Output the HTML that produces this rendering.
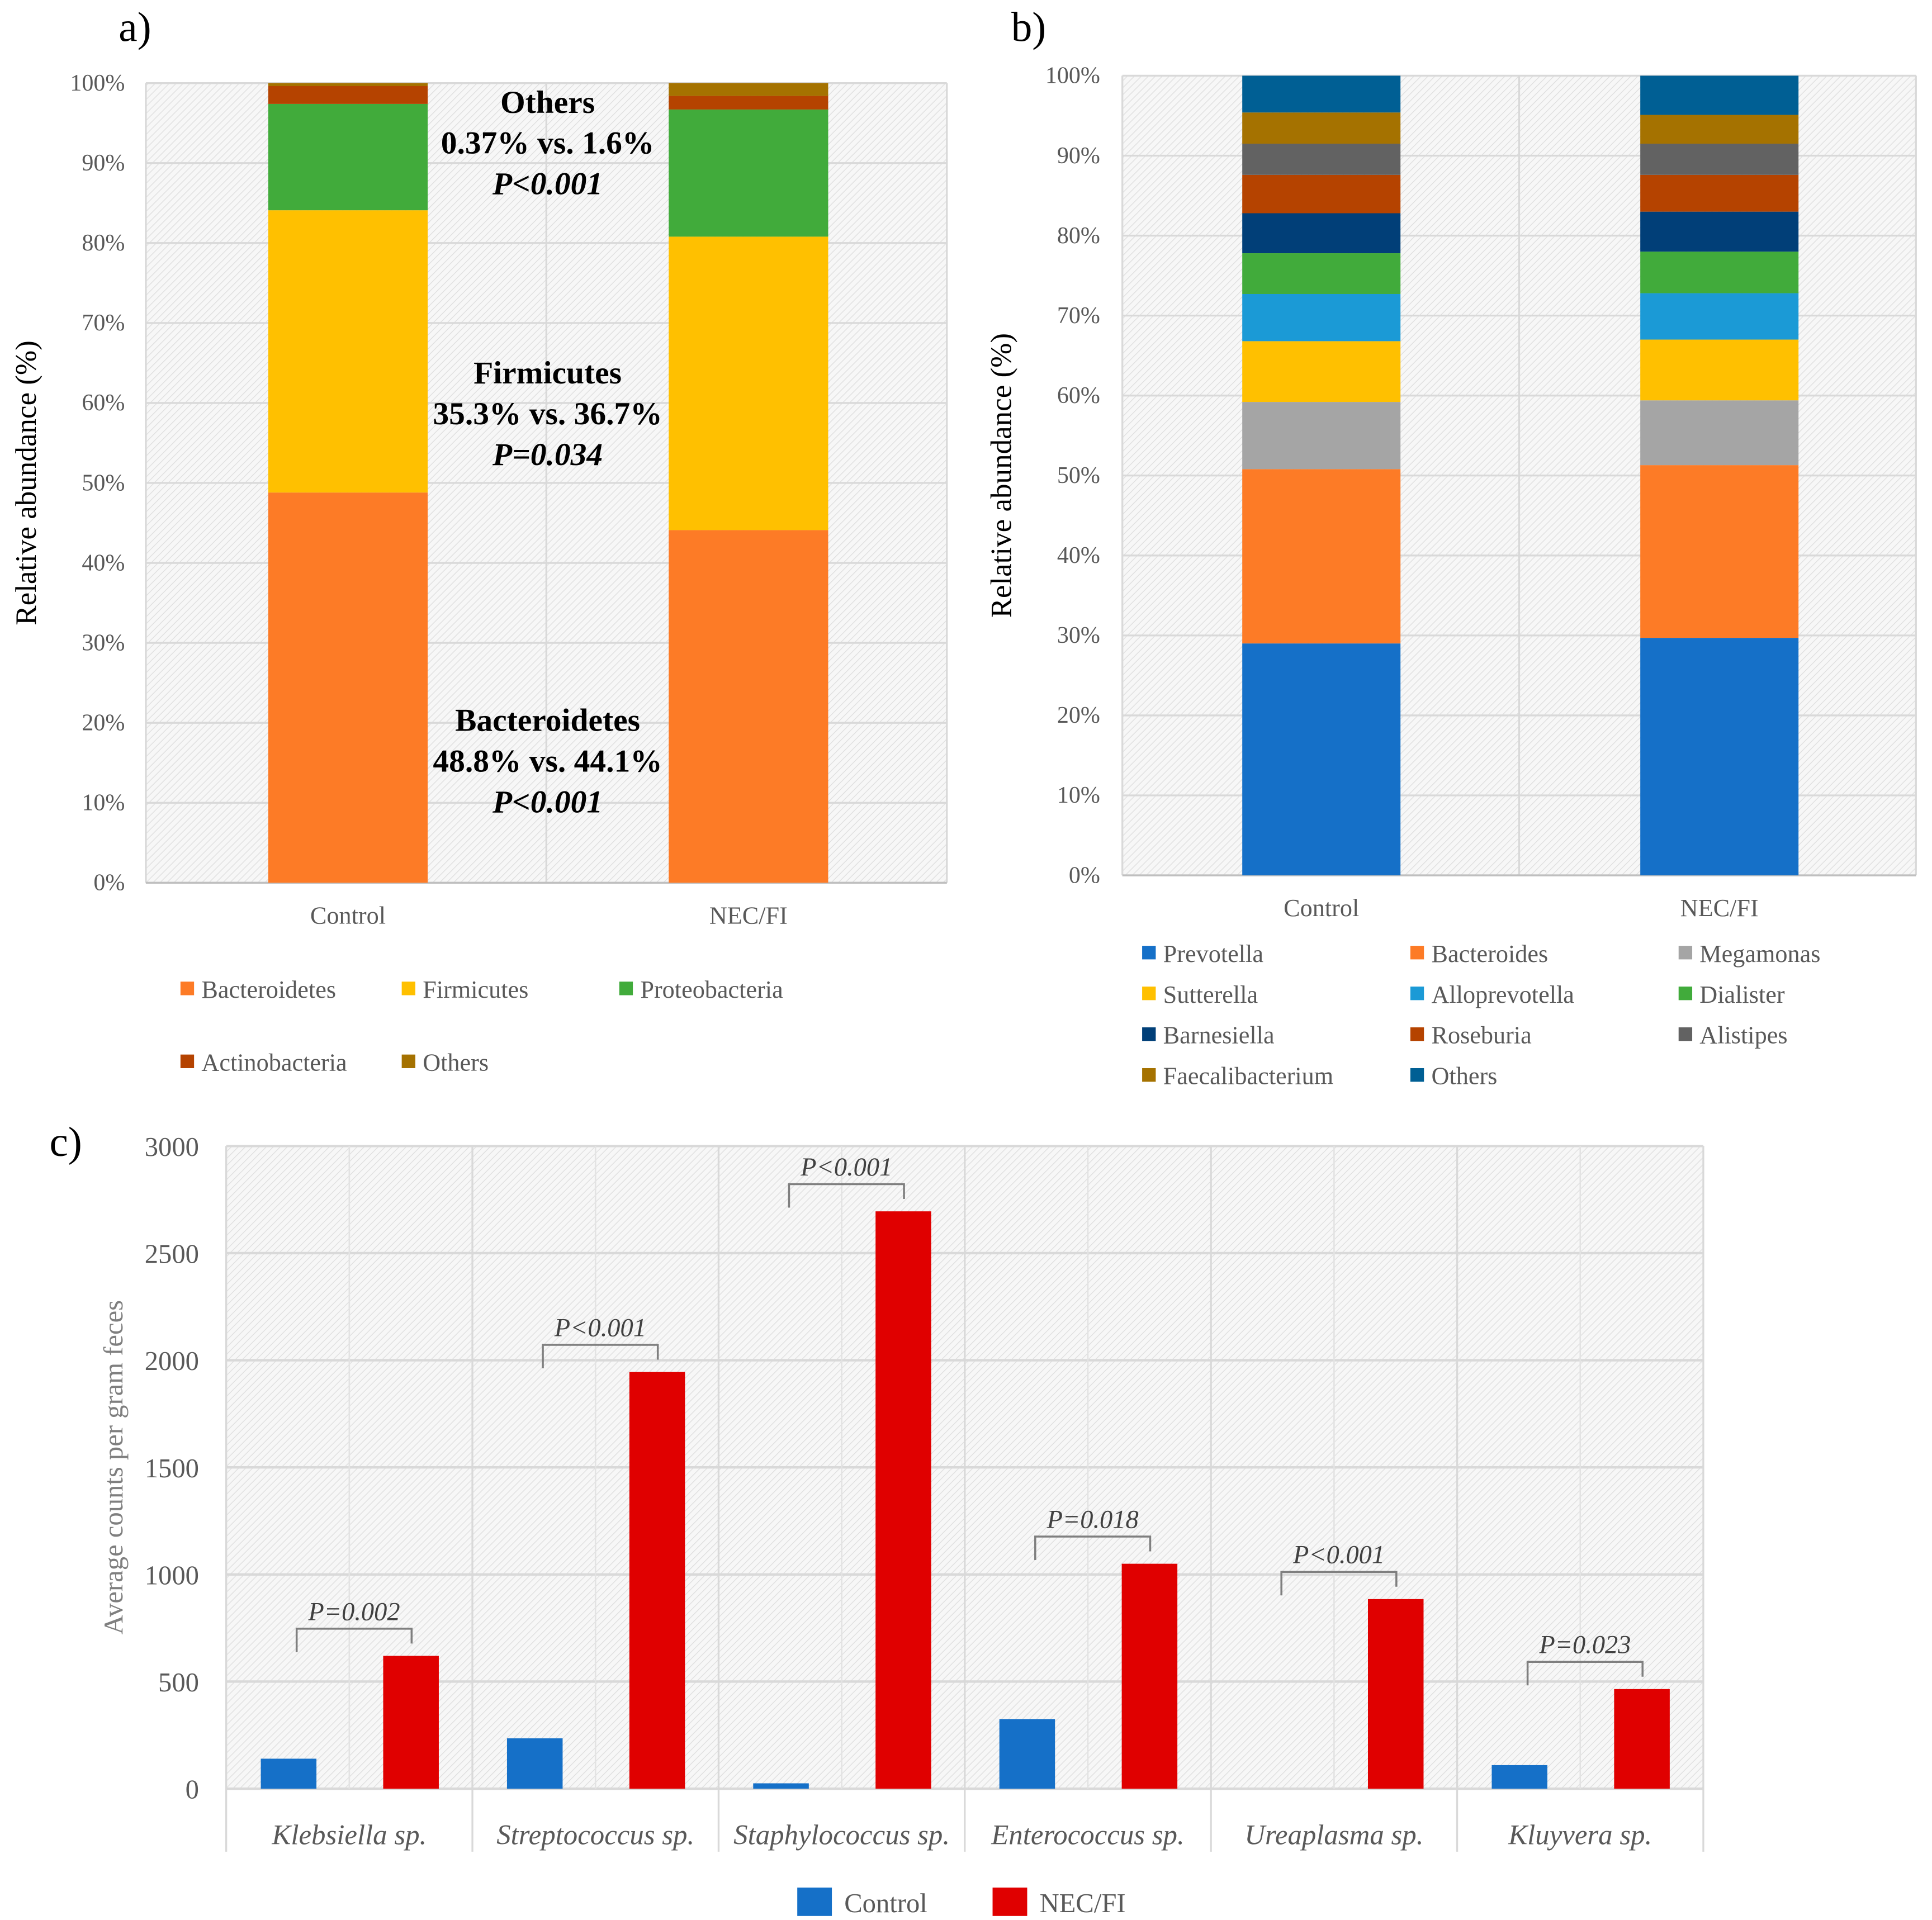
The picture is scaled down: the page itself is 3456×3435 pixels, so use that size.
<!DOCTYPE html>
<html><head><meta charset="utf-8"><style>
html,body{margin:0;padding:0;background:#fff}
svg{display:block}
text{font-family:"Liberation Serif",serif}
</style></head><body>
<svg id="fig" width="3456" height="3435" viewBox="0 0 1563 1553" xmlns="http://www.w3.org/2000/svg">
<defs>
<pattern id="hatch" patternUnits="userSpaceOnUse" width="4" height="4" patternTransform="rotate(45)">
<rect width="4" height="4" fill="#f7f7f7"/><line x1="0" y1="0" x2="0" y2="4" stroke="#dedede" stroke-width="1.2"/>
</pattern>
</defs>
<g id="pa"></g>
<g id="pb"></g>
<g id="pc"></g>
</svg>
<script>
// Panel a data
const aGroups = ["Control","NEC/FI"];
const aSeries = ["Bacteroidetes","Firmicutes","Proteobacteria","Actinobacteria","Others"];
const aControl = [48.8,35.3,13.3,2.23,0.37];
const aNec = [44.1,36.7,15.9,1.7,1.6];
const aColors = ["#fd7b26","#ffc000","#41ab3b","#b54300","#a57200"];
// Panel b data
const bSeries = ["Prevotella","Bacteroides","Megamonas","Sutterella","Alloprevotella","Dialister","Barnesiella","Roseburia","Alistipes","Faecalibacterium","Others"];
const bControl = [29.0,21.8,8.4,7.6,5.9,5.1,5.0,4.8,3.9,3.9,4.6];
const bNec = [29.7,21.6,8.1,7.6,5.8,5.2,5.0,4.6,3.9,3.6,4.9];
const bColors = ["#1570c8","#fd7b26","#a5a5a5","#ffc000","#1b9ad6","#41ab3b","#013f78","#b54300","#626262","#a57200","#005f94"];
const pctTicks = ["0%","10%","20%","30%","40%","50%","60%","70%","80%","90%","100%"];
// Panel c data
const cCats = ["Klebsiella sp.","Streptococcus sp.","Staphylococcus sp.","Enterococcus sp.","Ureaplasma sp.","Kluyvera sp."];
const cControl = [140,235,25,325,0,110];
const cNec = [620,1945,2695,1050,885,465];
const cPvals = ["P=0.002","P<0.001","P<0.001","P=0.018","P<0.001","P=0.023"];
const cTicks = [0,500,1000,1500,2000,2500,3000];

const NS="http://www.w3.org/2000/svg";
function el(parent,tag,attrs,txt){const e=document.createElementNS(NS,tag);for(const k in attrs)e.setAttribute(k,attrs[k]);if(txt!==undefined)e.textContent=txt;parent.appendChild(e);return e;}

function stacked(g,cfg){
  const {x0,x1,yTop,yBot,bars,series,colors,groups,barW,bx,tickX,titleX,label,labelX,labelY}=cfg;
  const y=v=>yBot-(yBot-yTop)*v/100;
  const r=el(g,'rect',{x:x0,y:yTop,width:x1-x0,height:yBot-yTop,fill:'url(#hatch)'});
  
  
  for(let i=0;i<pctTicks.length;i++){
    const yy=y(i*10);
    const gl=el(g,'line',{x1:x0,x2:x1,y1:yy,y2:yy,stroke:'#d9d9d9','stroke-width':1.5});
    
    
    const t=el(g,'text',{x:tickX,y:yy+6,'text-anchor':'end','font-size':19,fill:'#595959'},pctTicks[i]);
    
    
  }
  const mid=(x0+x1)/2;
  el(g,'line',{x1:mid,x2:mid,y1:yTop,y2:yBot,stroke:'#d9d9d9','stroke-width':1.5});
  el(g,'line',{x1:x0,x2:x0,y1:yTop,y2:yBot,stroke:'#d9d9d9','stroke-width':1.5});
  el(g,'line',{x1:x1,x2:x1,y1:yTop,y2:yBot,stroke:'#d9d9d9','stroke-width':1.5});
  el(g,'line',{x1:x0,x2:x1,y1:yBot,y2:yBot,stroke:'#bfbfbf','stroke-width':1.5});
  bars.forEach((vals,bi)=>{
    let cum=0;
    vals.forEach((v,si)=>{
      const s=el(g,'rect',{x:bx[bi],y:y(cum+v),width:barW,height:y(cum)-y(cum+v),fill:colors[si]});
      
      
      cum+=v;
    });
    const t=el(g,'text',{x:bx[bi]+barW/2,y:yBot+33,'text-anchor':'middle','font-size':20,fill:'#595959'},groups[bi]);
    
    
  });
  const yt=el(g,'text',{x:titleX,y:(yTop+yBot)/2,'text-anchor':'middle','font-size':24,fill:'#000',transform:`rotate(-90 ${titleX} ${(yTop+yBot)/2})`},'Relative abundance (%)');
  
  
  const pl=el(g,'text',{x:labelX,y:labelY,'font-size':34,fill:'#000'},label);
  
  
}

const pa=document.getElementById('pa');
stacked(pa,{x0:118,x1:766,yTop:67,yBot:714,bars:[aControl,aNec],series:aSeries,colors:aColors,groups:aGroups,barW:129,bx:[217,541],tickX:101,titleX:29,label:'a)',labelX:96,labelY:33});
[["Others","0.37% vs. 1.6%","P<0.001",91],["Firmicutes","35.3% vs. 36.7%","P=0.034",310],["Bacteroidetes","48.8% vs. 44.1%","P<0.001",591]].forEach(a=>{
  const t1=el(pa,'text',{x:443,y:a[3],'text-anchor':'middle','font-size':26,'font-weight':'bold'},a[0]);
  
  
  const t2=el(pa,'text',{x:443,y:a[3]+33,'text-anchor':'middle','font-size':26,'font-weight':'bold'},a[1]);
  
  
  const t3=el(pa,'text',{x:443,y:a[3]+66,'text-anchor':'middle','font-size':26,'font-weight':'bold','font-style':'italic'},a[2]);
  
  
});
const aLegPos=[[146,800],[325,800],[501,800],[146,859],[325,859]];
aSeries.forEach((s,i)=>{
  const [lx,ly]=aLegPos[i];
  const sq=el(pa,'rect',{x:lx,y:ly-6,width:11,height:11,fill:aColors[i]});
  
  
  const t=el(pa,'text',{x:lx+17,y:ly+7,'font-size':20,fill:'#595959'},s);
  
  
});

const pb=document.getElementById('pb');
stacked(pb,{x0:908,x1:1550,yTop:61,yBot:708,bars:[bControl,bNec],series:bSeries,colors:bColors,groups:aGroups,barW:128,bx:[1005,1327],tickX:890,titleX:818,label:'b)',labelX:818,labelY:33});
bSeries.forEach((s,i)=>{
  const lx=[924,1141,1358][i%3], ly=771+33*Math.floor(i/3);
  const sq=el(pb,'rect',{x:lx,y:ly-6,width:11,height:11,fill:bColors[i]});
  
  
  const t=el(pb,'text',{x:lx+17,y:ly+7,'font-size':20,fill:'#595959'},s);
  
  
});

// Panel c
const pc=document.getElementById('pc');
const cx0=183,cx1=1378,cTop=927,cBot=1447,cMax=3000;
const cw=(cx1-cx0)/cCats.length;
const cy=v=>cBot-(cBot-cTop)*v/cMax;
const pr=el(pc,'rect',{x:cx0,y:cTop,width:cx1-cx0,height:cBot-cTop,fill:'url(#hatch)'});


cTicks.forEach(v=>{
  const gl=el(pc,'line',{x1:cx0,x2:cx1,y1:cy(v),y2:cy(v),stroke:'#d9d9d9','stroke-width':2});
  
  
  const t=el(pc,'text',{x:161,y:cy(v)+8,'text-anchor':'end','font-size':22,fill:'#595959'},String(v));
  
  
});
for(let i=0;i<=cCats.length;i++){
  el(pc,'line',{x1:cx0+i*cw,x2:cx0+i*cw,y1:cTop,y2:cBot+51,stroke:'#d9d9d9','stroke-width':1.5});
  if(i<cCats.length) el(pc,'line',{x1:cx0+i*cw+cw/2,x2:cx0+i*cw+cw/2,y1:cTop,y2:cBot,stroke:'#e3e3e3','stroke-width':1.2});
}
cCats.forEach((c,i)=>{
  const base=cx0+i*cw;
  const b1=el(pc,'rect',{x:base+28,y:cy(cControl[i]),width:45,height:cBot-cy(cControl[i]),fill:'#1570c8'});
  
  
  const b2=el(pc,'rect',{x:base+127,y:cy(cNec[i]),width:45,height:cBot-cy(cNec[i]),fill:'#e00000'});
  
  
  const top=cy(Math.max(cNec[i],cControl[i]))-22;
  const lx=base+57, rx=base+150;
  const br=el(pc,'path',{d:`M${lx} ${top+19} V${top} H${rx} V${top+12}`,fill:'none',stroke:'#7f7f7f','stroke-width':1.6});
  
  
  const pt=el(pc,'text',{x:(lx+rx)/2,y:top-7,'text-anchor':'middle','font-size':21,'font-style':'italic',fill:'#404040'},cPvals[i]);
  
  
  const xt=el(pc,'text',{x:base+cw/2,y:cBot+45,'text-anchor':'middle','font-size':23,'font-style':'italic',fill:'#595959'},c);
  
  
});
const cyt=el(pc,'text',{x:99,y:1187,'text-anchor':'middle','font-size':22,fill:'#7f7f7f',transform:'rotate(-90 99 1187)'},'Average counts per gram feces');


const cl=el(pc,'text',{x:40,y:935,'font-size':34},'c)');


[["Control","#1570c8",645],["NEC/FI","#e00000",803]].forEach(l=>{
  const sq=el(pc,'rect',{x:l[2],y:1527,width:28,height:23,fill:l[1]});
  
  
  const t=el(pc,'text',{x:l[2]+38,y:1547,'font-size':22,fill:'#595959'},l[0]);
  
  
});
</script>
</body></html>
